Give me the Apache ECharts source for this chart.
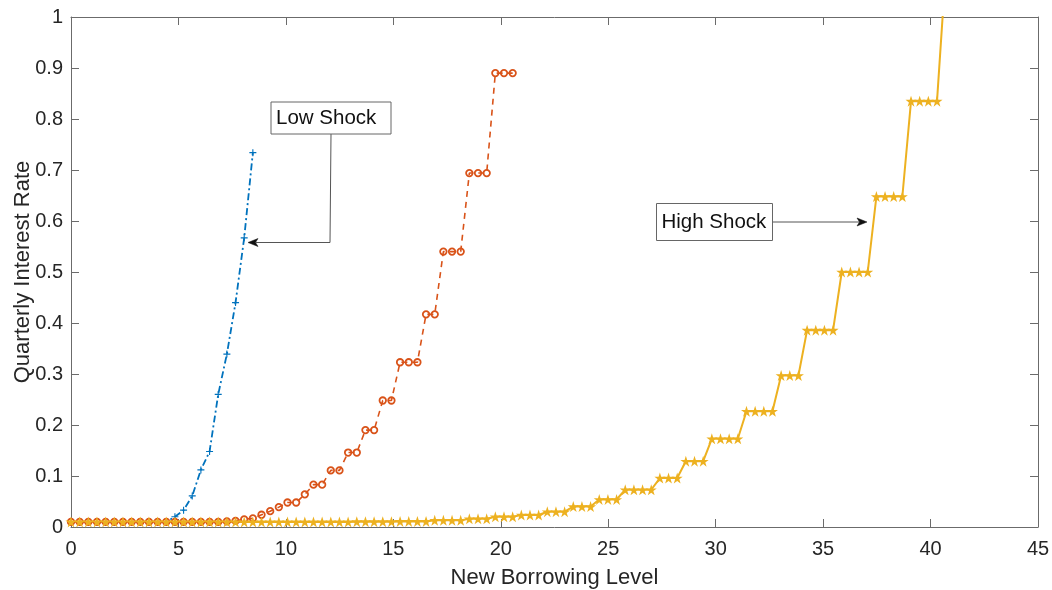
<!DOCTYPE html>
<html>
<head>
<meta charset="utf-8">
<script src="https://cdn.jsdelivr.net/npm/echarts@6/dist/echarts.min.js"></script>
<style>
  html, body { margin: 0; padding: 0; background: #fff; }
  #chart { width: 1052px; height: 590px; }
</style>
</head>
<body>
<div id="chart"></div>
<script>
// New borrowing level grid (x values of the sampled points)
const borrowing = [
  0, 0.403, 0.806, 1.209, 1.612, 2.015, 2.418, 2.821, 3.224, 3.627,
  4.03, 4.433, 4.836, 5.239, 5.642, 6.045, 6.448, 6.851, 7.254, 7.657,
  8.06, 8.463, 8.866, 9.269, 9.672, 10.075, 10.478, 10.881, 11.284, 11.687,
  12.09, 12.493, 12.896, 13.299, 13.702, 14.105, 14.508, 14.911, 15.314, 15.717,
  16.12, 16.523, 16.926, 17.329, 17.732, 18.135, 18.538, 18.941, 19.344, 19.747,
  20.15, 20.553, 20.956, 21.359, 21.762, 22.165, 22.568, 22.971, 23.374, 23.777,
  24.18, 24.583, 24.986, 25.389, 25.792, 26.195, 26.598, 27.001, 27.404, 27.807,
  28.21, 28.613, 29.016, 29.419, 29.822, 30.225, 30.628, 31.031, 31.434, 31.837,
  32.24, 32.643, 33.046, 33.449, 33.852, 34.255, 34.658, 35.061, 35.464, 35.867,
  36.27, 36.673, 37.076, 37.479, 37.882, 38.285, 38.688, 39.091, 39.494, 39.897,
  40.3, 40.703
];

// Low shock (blue)
const lowShock = [
  0.01, 0.01, 0.01, 0.01, 0.01, 0.01, 0.01, 0.01, 0.01, 0.01,
  0.01, 0.01, 0.02, 0.033, 0.061, 0.112, 0.148, 0.26, 0.339, 0.44,
  0.567, 0.734
];

// Medium shock (orange)
const midShock = [
  0.01, 0.01, 0.01, 0.01, 0.01, 0.01, 0.01, 0.01, 0.01, 0.01,
  0.01, 0.01, 0.01, 0.01, 0.01, 0.01, 0.01, 0.01, 0.011, 0.012,
  0.015, 0.017, 0.024, 0.031, 0.039, 0.048, 0.048, 0.064, 0.083, 0.083,
  0.111, 0.111, 0.146, 0.146, 0.19, 0.19, 0.248, 0.248, 0.323, 0.323,
  0.323, 0.417, 0.417, 0.54, 0.54, 0.54, 0.694, 0.694, 0.694, 0.89,
  0.89, 0.89
];

// High shock (yellow)
const highShock = [
  0.01, 0.01, 0.01, 0.01, 0.01, 0.01, 0.01, 0.01, 0.01, 0.01,
  0.01, 0.01, 0.01, 0.01, 0.01, 0.01, 0.01, 0.01, 0.01, 0.01,
  0.01, 0.01, 0.01, 0.01, 0.01, 0.01, 0.01, 0.01, 0.01, 0.01,
  0.01, 0.01, 0.01, 0.0105, 0.0105, 0.0105, 0.0105, 0.0105, 0.011, 0.011,
  0.011, 0.011, 0.013, 0.013, 0.013, 0.013, 0.016, 0.016, 0.016, 0.02,
  0.02, 0.02, 0.0235, 0.0235, 0.0235, 0.03, 0.03, 0.03, 0.04, 0.04,
  0.04, 0.054, 0.054, 0.054, 0.073, 0.073, 0.073, 0.073, 0.096, 0.096,
  0.096, 0.129, 0.129, 0.129, 0.173, 0.173, 0.173, 0.173, 0.227, 0.227,
  0.227, 0.227, 0.297, 0.297, 0.297, 0.386, 0.386, 0.386, 0.386, 0.50,
  0.50, 0.50, 0.50, 0.648, 0.648, 0.648, 0.648, 0.835, 0.835, 0.835,
  0.835, 1.09
];

const xTicks = [0, 5, 10, 15, 20, 25, 30, 35, 40, 45];
const yTicks = [0, 0.1, 0.2, 0.3, 0.4, 0.5, 0.6, 0.7, 0.8, 0.9, 1];

const xTitle = 'New Borrowing Level';
const yTitle = 'Quarterly Interest Rate';
const lowLabel = 'Low Shock';
const highLabel = 'High Shock';

const pairs = (vals) => vals.map((v, i) => [borrowing[i], v]);

const FONT = 'Liberation Sans, Arial, Helvetica, sans-serif';
const AXIS_COL = '#6b6b6b';
const TEXT_COL = '#262626';

const starPath = 'path://M0,-100L22.5,-30.9L95.1,-30.9L36.3,11.8L58.8,80.9L0,38.2L-58.8,80.9L-36.3,11.8L-95.1,-30.9L-22.5,-30.9Z';
const plusPath = 'path://M-16,-100H16V-16H100V16H16V100H-16V16H-100V-16H-16Z';

const chart = echarts.init(document.getElementById('chart'), null, { renderer: 'canvas' });

const xAxisBase = {
  type: 'value',
  min: xTicks[0],
  max: xTicks[xTicks.length - 1],
  interval: 5,
  splitLine: { show: false },
  axisLine: { show: true, onZero: false, lineStyle: { color: AXIS_COL, width: 1 } },
  axisTick: { show: true, inside: true, length: 8, lineStyle: { color: AXIS_COL, width: 1 } }
};
const yAxisBase = {
  type: 'value',
  min: yTicks[0],
  max: yTicks[yTicks.length - 1],
  interval: 0.1,
  splitLine: { show: false },
  axisLine: { show: true, onZero: false, lineStyle: { color: AXIS_COL, width: 1 } },
  axisTick: { show: true, inside: true, length: 8, lineStyle: { color: AXIS_COL, width: 1 } }
};

chart.setOption({
  animation: false,
  backgroundColor: '#ffffff',
  grid: { left: 71, right: 14, top: 17, bottom: 63, containLabel: false, outerBoundsMode: 'none' },
  xAxis: [
    Object.assign({}, xAxisBase, {
      position: 'bottom',
      name: xTitle,
      nameLocation: 'middle',
      nameGap: 40,
      nameMoveOverlap: false,
      nameTextStyle: { fontFamily: FONT, fontSize: 22, color: TEXT_COL },
      axisLabel: { show: true, margin: 12, fontFamily: FONT, fontSize: 20, color: TEXT_COL }
    }),
    Object.assign({}, xAxisBase, {
      position: 'top',
      axisLabel: { show: false }
    })
  ],
  yAxis: [
    Object.assign({}, yAxisBase, {
      position: 'left',
      name: yTitle,
      nameLocation: 'middle',
      nameGap: 37,
      nameMoveOverlap: false,
      nameTextStyle: { fontFamily: FONT, fontSize: 22, color: TEXT_COL },
      axisLabel: { show: true, margin: 8, fontFamily: FONT, fontSize: 20, color: TEXT_COL,
        formatter: (v) => String(Math.round(v * 10) / 10) }
    }),
    Object.assign({}, yAxisBase, {
      position: 'right',
      axisLabel: { show: false }
    })
  ],
  series: [
    {
      name: lowLabel,
      type: 'line',
      xAxisIndex: 0, yAxisIndex: 0,
      data: pairs(lowShock),
      showAllSymbol: true,
      symbol: plusPath,
      symbolSize: 7,
      itemStyle: { color: '#0072BD' },
      lineStyle: { color: '#0072BD', width: 1.8, type: [7, 3, 2, 3] },
      clip: true
    },
    {
      name: 'Medium Shock',
      type: 'line',
      xAxisIndex: 0, yAxisIndex: 0,
      data: pairs(midShock),
      showAllSymbol: true,
      symbol: 'circle',
      symbolSize: 6.5,
      itemStyle: { color: 'rgba(255,255,255,0)', borderColor: '#D95319', borderWidth: 1.8 },
      lineStyle: { color: '#D95319', width: 1.6, type: [6, 5] },
      clip: true
    },
    {
      name: highLabel,
      type: 'line',
      xAxisIndex: 0, yAxisIndex: 0,
      data: pairs(highShock),
      showAllSymbol: true,
      symbol: starPath,
      symbolSize: 11,
      itemStyle: { color: '#EDB120' },
      lineStyle: { color: '#EDB120', width: 2 },
      clip: true
    }
  ],
  graphic: [
    // Low Shock annotation
    {
      type: 'polyline', silent: true,
      shape: { points: [[331, 134], [330, 242.5], [256, 242.5]] },
      style: { stroke: '#555', lineWidth: 1, fill: null }
    },
    {
      type: 'polygon', silent: true,
      shape: { points: [[248, 242.5], [258, 238.5], [255.5, 242.5], [258, 246.5]] },
      style: { fill: '#111', stroke: '#111', lineWidth: 0.5 }
    },
    {
      type: 'rect', silent: true,
      shape: { x: 271, y: 102, width: 120, height: 32 },
      style: { fill: '#fff', stroke: '#666', lineWidth: 1 }
    },
    {
      type: 'text', silent: true,
      x: 276, y: 118,
      style: { text: lowLabel, fontFamily: FONT, fontSize: 20.5, fill: '#111', verticalAlign: 'middle', align: 'left' }
    },
    // High Shock annotation
    {
      type: 'polyline', silent: true,
      shape: { points: [[773, 222], [859, 222]] },
      style: { stroke: '#555', lineWidth: 1, fill: null }
    },
    {
      type: 'polygon', silent: true,
      shape: { points: [[867, 222], [857, 218], [859.5, 222], [857, 226]] },
      style: { fill: '#111', stroke: '#111', lineWidth: 0.5 }
    },
    {
      type: 'rect', silent: true,
      shape: { x: 656.5, y: 203.5, width: 116, height: 37 },
      style: { fill: '#fff', stroke: '#666', lineWidth: 1 }
    },
    {
      type: 'text', silent: true,
      x: 661.5, y: 222,
      style: { text: highLabel, fontFamily: FONT, fontSize: 20.5, fill: '#111', verticalAlign: 'middle', align: 'left' }
    }
  ]
});
</script>
</body>
</html>
